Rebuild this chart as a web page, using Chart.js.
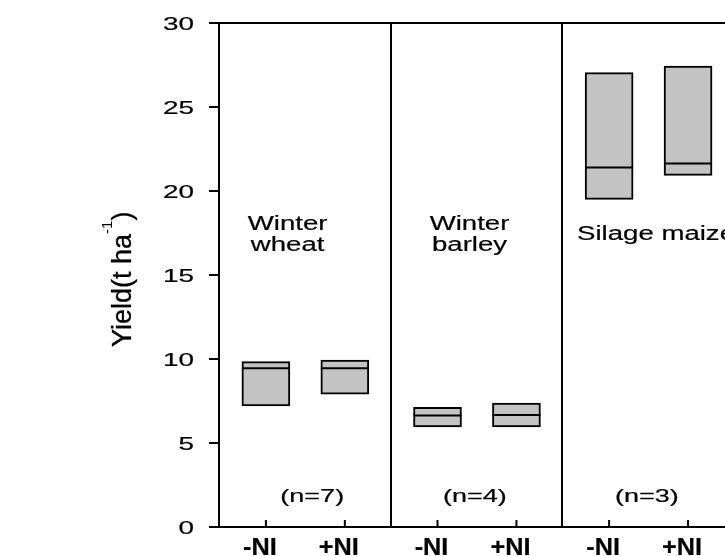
<!DOCTYPE html>
<html>
<head>
<meta charset="utf-8">
<script src="https://cdn.jsdelivr.net/npm/chart.js@4.4.1/dist/chart.umd.min.js"></script>
<style>
html, body { margin: 0; padding: 0; background: #fff; overflow: hidden; }
</style>
</head>
<body>
<canvas id="yieldChart" width="725" height="556"></canvas>
<script>
const crops = ['Winter wheat', 'Winter barley', 'Silage maize'];
const cropLines = [['Winter', 'wheat'], ['Winter', 'barley'], ['Silage maize']];
const sampleSizes = [7, 4, 3];
const treatments = ['-NI', '+NI'];
const yTicks = [0, 5, 10, 15, 20, 25, 30];

// yield in t/ha (box bottom, median, box top)
const minusLow = [7.2, 5.95, 19.5];
const minusMedian = [9.45, 6.63, 21.4];
const minusHigh = [9.84, 7.12, 27.05];
const plusLow = [7.9, 5.95, 20.93];
const plusMedian = [9.45, 6.67, 21.63];
const plusHigh = [9.94, 7.38, 27.44];

// each crop gets a panel 3 units wide, -NI and +NI sit inside it
const PANEL = 3;
const slot = [0.82, 2.2];
function xOf(i, t) { return i * PANEL + slot[t]; }

const titleX = [1.2, 4.38, 7.64];
const nX = [1.63, 4.475, 7.48];

// the original figure has its lettering stretched sideways
function stretchText(ctx, text, x, y, sx, align) {
    ctx.save();
    ctx.translate(x, y);
    ctx.scale(sx, 1);
    ctx.textAlign = align;
    ctx.lineWidth = 0.2;
    ctx.fillText(text, 0, 0);
    ctx.strokeText(text, 0, 0);
    ctx.restore();
}

const decor = {
    id: 'decor',
    afterDraw(chart) {
        const ctx = chart.ctx;
        const x = chart.scales.x;
        const y = chart.scales.y;
        const base = y.getPixelForValue(0);
        ctx.save();
        ctx.fillStyle = '#000';
        ctx.strokeStyle = '#000';
        ctx.textBaseline = 'alphabetic';

        // small inward ticks at each treatment
        crops.forEach((c, i) => {
            treatments.forEach((t, k) => {
                let px = x.getPixelForValue(xOf(i, k));
                ctx.lineWidth = 2;
                ctx.beginPath();
                ctx.moveTo(px, base);
                ctx.lineTo(px, base - 7);
                ctx.stroke();
                ctx.font = 'bold 23px "Liberation Sans", Arial, sans-serif';
                stretchText(ctx, t, px - 6, 555, 1.1, 'center');
            });
        });

        // y tick labels
        ctx.font = '18px "Liberation Sans", Arial, sans-serif';
        yTicks.forEach(v => {
            stretchText(ctx, String(v), 194, y.getPixelForValue(v) + 6.5, 1.55, 'right');
        });

        // crop names
        ctx.font = '20px "Liberation Sans", Arial, sans-serif';
        cropLines.forEach((lines, i) => {
            let px = x.getPixelForValue(titleX[i]);
            let py = y.getPixelForValue(17.68);
            if (lines.length == 1) py += 10;
            lines.forEach((l, j) => stretchText(ctx, l, px, py + j * 21, 1.38, 'center'));
        });

        // sample sizes
        ctx.font = '18px "Liberation Sans", Arial, sans-serif';
        sampleSizes.forEach((n, i) => {
            stretchText(ctx, '(n=' + n + ')', x.getPixelForValue(nX[i]), y.getPixelForValue(1.46), 1.5, 'center');
        });

        // y axis title
        ctx.translate(131, 347);
        ctx.rotate(-Math.PI / 2);
        ctx.textAlign = 'left';
        ctx.lineWidth = 0.3;
        ctx.font = '27px "Liberation Sans", Arial, sans-serif';
        let part1 = 'Yield(t ha';
        ctx.fillText(part1, 0, 0);
        ctx.strokeText(part1, 0, 0);
        let w1 = ctx.measureText(part1).width;
        ctx.font = '15px "Liberation Sans", Arial, sans-serif';
        ctx.fillText('-1', w1, -19);
        let w2 = ctx.measureText('-1').width;
        ctx.font = '27px "Liberation Sans", Arial, sans-serif';
        ctx.fillText(')', w1 + w2, 0);
        ctx.strokeText(')', w1 + w2, 0);
        ctx.restore();
    }
};

const barStyle = {
    type: 'bar',
    barThickness: 48,
    borderWidth: 2,
    borderColor: '#000',
    backgroundColor: '#c3c3c3',
    borderSkipped: false,
    grouped: false,
    order: 1
};

const medianStyle = {
    type: 'scatter',
    pointStyle: 'line',
    pointRadius: 24,
    pointHoverRadius: 24,
    borderWidth: 2,
    pointBorderWidth: 2,
    borderColor: '#000',
    pointBorderColor: '#000',
    order: 0
};

const ctx = document.getElementById('yieldChart').getContext('2d');
new Chart(ctx, {
    data: {
        datasets: [
            Object.assign({ label: '-NI median', data: crops.map((c, i) => ({ x: xOf(i, 0), y: minusMedian[i] })) }, medianStyle),
            Object.assign({ label: '+NI median', data: crops.map((c, i) => ({ x: xOf(i, 1), y: plusMedian[i] })) }, medianStyle),
            Object.assign({ label: '-NI', data: crops.map((c, i) => ({ x: xOf(i, 0), y: [minusLow[i], minusHigh[i]] })) }, barStyle),
            Object.assign({ label: '+NI', data: crops.map((c, i) => ({ x: xOf(i, 1), y: [plusLow[i], plusHigh[i]] })) }, barStyle)
        ]
    },
    options: {
        responsive: false,
        animation: false,
        devicePixelRatio: 1,
        layout: { autoPadding: false, padding: { top: 23, left: 0, right: 0, bottom: 0 } },
        plugins: { legend: { display: false }, tooltip: { enabled: false } },
        scales: {
            x: {
                type: 'linear',
                min: 0,
                max: 8.846,
                offset: false,
                grid: { offset: false, color: '#000', lineWidth: 2, drawTicks: false },
                border: { color: '#000', width: 2 },
                ticks: { display: false },
                afterBuildTicks: s => { s.ticks = [3, 6].map(v => ({ value: v })); },
                afterFit: s => { s.height = 29; }
            },
            y: {
                min: 0,
                max: 30,
                ticks: { display: false, stepSize: 5 },
                grid: {
                    color: c => (c.tick && c.tick.value === 30) ? '#000' : 'rgba(0,0,0,0)',
                    lineWidth: 2,
                    tickLength: 10,
                    tickColor: '#000',
                    tickWidth: 2
                },
                border: { color: '#000', width: 2 },
                afterFit: s => { s.width = 219; }
            }
        }
    },
    plugins: [decor]
});
</script>
</body>
</html>
